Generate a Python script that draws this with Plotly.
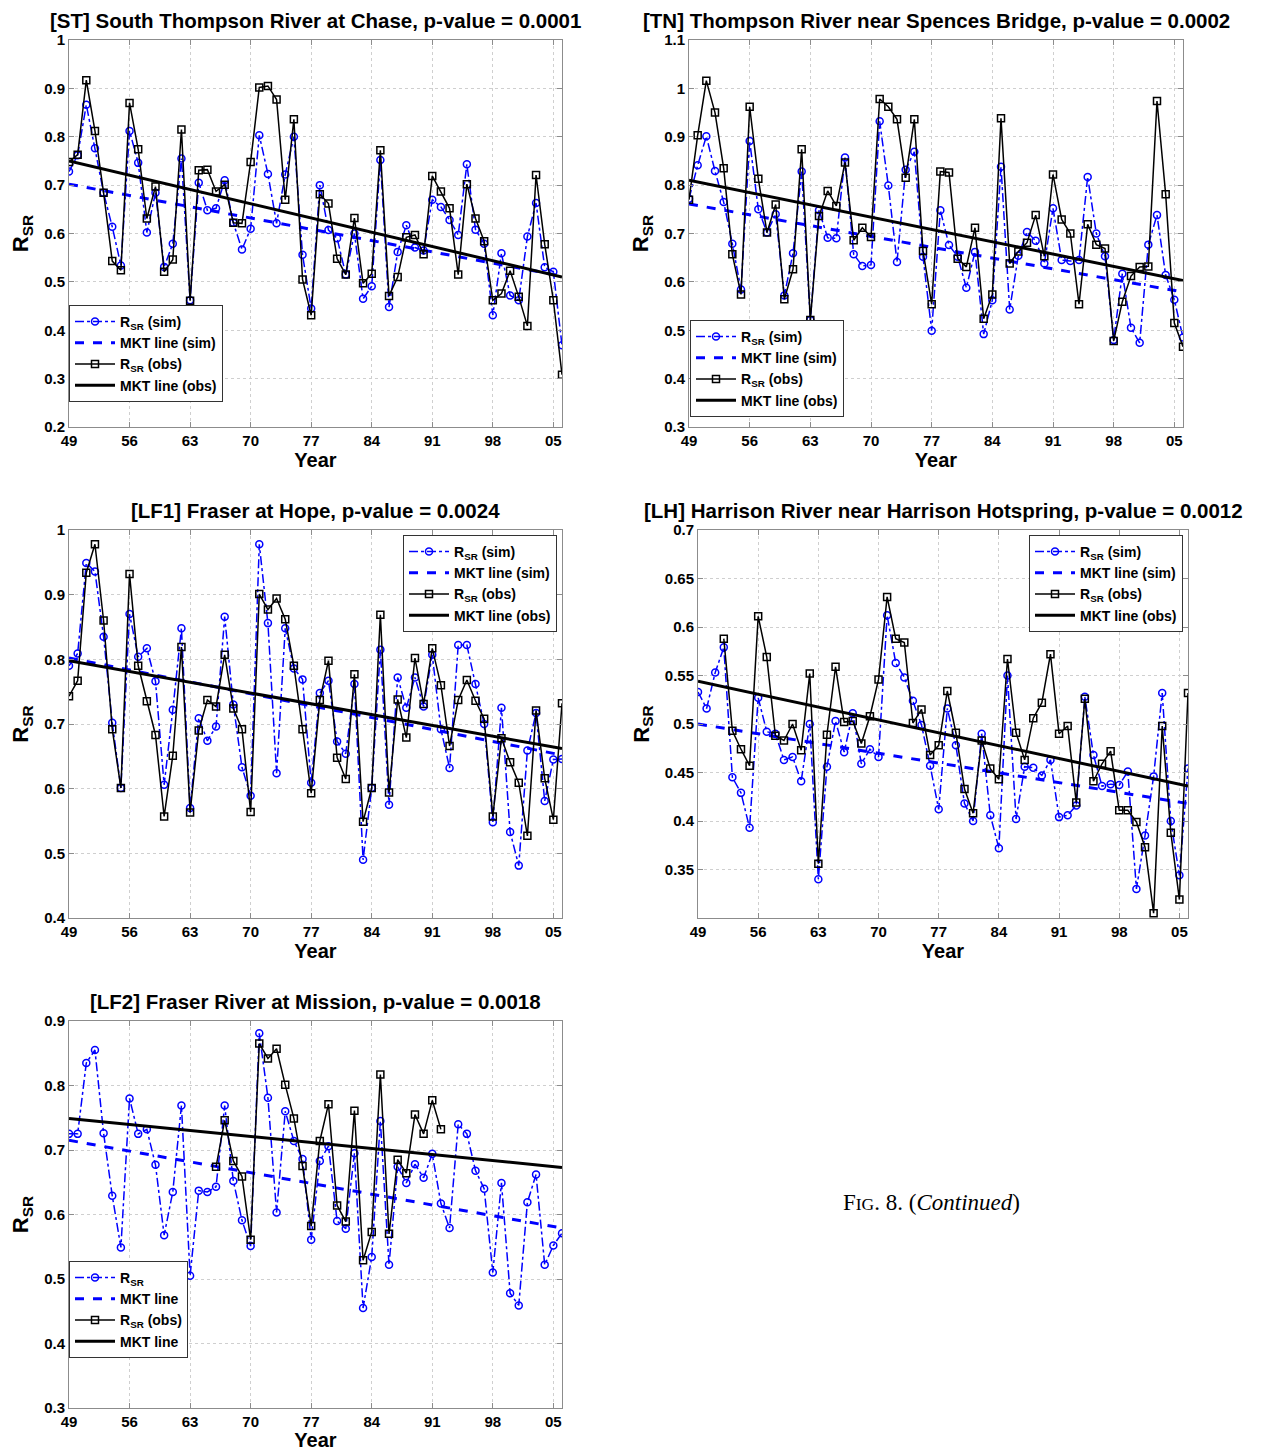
import plotly.graph_objects as go

# The page body has an 8px margin; work in reference pixels and shift by it.
OFF = 8
W, H = 1263 - OFF, 1451 - OFF

years = list(range(1949, 2007))
xtick_vals = [1949, 1956, 1963, 1970, 1977, 1984, 1991, 1998, 2005]
xtick_text = ["49", "56", "63", "70", "77", "84", "91", "98", "05"]

# ---- [ST] South Thompson River at Chase ----
st_sim = [0.728, 0.762, 0.866, 0.776, 0.684, 0.614, 0.534, 0.812, 0.746, 0.602,
          0.684, 0.531, 0.579, 0.755, 0.462, 0.705, 0.648, 0.652, 0.710, 0.622,
          0.567, 0.610, 0.803, 0.723, 0.621, 0.722, 0.800, 0.556, 0.445, 0.700,
          0.607, 0.590, 0.515, 0.600, 0.465, 0.491, 0.752, 0.448, 0.562, 0.617,
          0.571, 0.565, 0.670, 0.655, 0.628, 0.597, 0.743, 0.608, 0.579, 0.431,
          0.559, 0.472, 0.462, 0.594, 0.663, 0.530, 0.521, 0.369]
st_obs = [0.748, 0.763, 0.917, 0.812, 0.684, 0.543, 0.524, 0.870, 0.774, 0.631,
          0.697, 0.521, 0.546, 0.815, 0.461, 0.731, 0.732, 0.687, 0.701, 0.622,
          0.621, 0.748, 0.902, 0.905, 0.877, 0.670, 0.836, 0.505, 0.431, 0.681,
          0.662, 0.548, 0.515, 0.632, 0.497, 0.517, 0.772, 0.471, 0.510, 0.592,
          0.597, 0.557, 0.719, 0.687, 0.652, 0.515, 0.702, 0.631, 0.584, 0.462,
          0.476, 0.523, 0.469, 0.409, 0.721, 0.578, 0.462, 0.308]
st_mkt_sim = [0.702, 0.512]
st_mkt_obs = [0.750, 0.510]

# ---- [TN] Thompson River near Spences Bridge ----
tn_sim = [0.772, 0.841, 0.901, 0.829, 0.765, 0.679, 0.584, 0.891, 0.750, 0.702,
          0.740, 0.572, 0.659, 0.828, 0.521, 0.748, 0.691, 0.690, 0.857, 0.657,
          0.633, 0.635, 0.932, 0.799, 0.641, 0.832, 0.869, 0.652, 0.499, 0.748,
          0.676, 0.652, 0.588, 0.662, 0.492, 0.562, 0.838, 0.543, 0.654, 0.703,
          0.685, 0.638, 0.752, 0.645, 0.643, 0.645, 0.817, 0.700, 0.653, 0.480,
          0.617, 0.505, 0.474, 0.677, 0.738, 0.614, 0.563, 0.485]
tn_obs = [0.770, 0.903, 1.016, 0.950, 0.835, 0.657, 0.574, 0.962, 0.813, 0.702,
          0.760, 0.564, 0.626, 0.874, 0.521, 0.736, 0.788, 0.757, 0.847, 0.686,
          0.712, 0.693, 0.978, 0.962, 0.936, 0.815, 0.936, 0.664, 0.554, 0.828,
          0.826, 0.648, 0.631, 0.712, 0.524, 0.574, 0.938, 0.638, 0.663, 0.681,
          0.738, 0.653, 0.822, 0.729, 0.700, 0.554, 0.719, 0.677, 0.669, 0.478,
          0.559, 0.612, 0.631, 0.632, 0.974, 0.781, 0.515, 0.466]
tn_mkt_sim = [0.761, 0.579]
tn_mkt_obs = [0.810, 0.603]

# ---- [LF1] Fraser at Hope ----
lf1_sim = [0.790, 0.809, 0.949, 0.936, 0.835, 0.702, 0.601, 0.870, 0.804, 0.817,
           0.766, 0.606, 0.722, 0.848, 0.570, 0.709, 0.674, 0.696, 0.866, 0.730,
           0.633, 0.589, 0.978, 0.856, 0.624, 0.848, 0.786, 0.769, 0.609, 0.748,
           0.767, 0.673, 0.654, 0.762, 0.490, 0.601, 0.815, 0.575, 0.772, 0.725,
           0.772, 0.727, 0.807, 0.692, 0.632, 0.822, 0.822, 0.762, 0.700, 0.548,
           0.725, 0.533, 0.481, 0.659, 0.717, 0.581, 0.645, 0.646]
lf1_obs = [0.743, 0.767, 0.934, 0.978, 0.860, 0.692, 0.601, 0.932, 0.790, 0.735,
           0.683, 0.557, 0.651, 0.819, 0.563, 0.690, 0.737, 0.727, 0.807, 0.724,
           0.692, 0.564, 0.901, 0.877, 0.894, 0.862, 0.790, 0.692, 0.593, 0.737,
           0.798, 0.648, 0.615, 0.777, 0.549, 0.601, 0.869, 0.594, 0.738, 0.679,
           0.802, 0.731, 0.817, 0.760, 0.666, 0.737, 0.768, 0.736, 0.708, 0.557,
           0.678, 0.641, 0.609, 0.527, 0.721, 0.616, 0.552, 0.732]
lf1_mkt_sim = [0.802, 0.652]
lf1_mkt_obs = [0.798, 0.662]

# ---- [LH] Harrison River near Harrison Hotspring ----
lh_sim = [0.533, 0.516, 0.553, 0.579, 0.445, 0.429, 0.393, 0.527, 0.492, 0.490,
          0.463, 0.466, 0.441, 0.500, 0.340, 0.456, 0.503, 0.471, 0.511, 0.459,
          0.474, 0.466, 0.612, 0.563, 0.548, 0.524, 0.499, 0.457, 0.412, 0.516,
          0.478, 0.418, 0.400, 0.490, 0.406, 0.372, 0.550, 0.402, 0.456, 0.455,
          0.447, 0.463, 0.404, 0.406, 0.416, 0.528, 0.468, 0.436, 0.438, 0.437,
          0.451, 0.330, 0.385, 0.446, 0.532, 0.400, 0.344, 0.454]
lh_obs = [None, None, None, 0.588, 0.493, 0.474, 0.457, 0.611, 0.569, 0.488,
          0.483, 0.500, 0.473, 0.552, 0.356, 0.489, 0.559, 0.502, 0.503, 0.480,
          0.508, 0.546, 0.631, 0.588, 0.584, 0.501, 0.515, 0.468, 0.478, 0.534,
          0.491, 0.433, 0.408, 0.483, 0.454, 0.443, 0.567, 0.491, 0.463, 0.506,
          0.522, 0.572, 0.490, 0.498, 0.419, 0.526, 0.441, 0.459, 0.472, 0.411,
          0.411, 0.399, 0.373, 0.305, 0.498, 0.388, 0.319, 0.532]
lh_mkt_sim = [0.500, 0.418]
lh_mkt_obs = [0.544, 0.436]

# ---- [LF2] Fraser River at Mission ----
lf2_sim = [0.725, 0.725, 0.835, 0.855, 0.726, 0.629, 0.549, 0.780, 0.725, 0.732,
           0.677, 0.568, 0.635, 0.769, 0.505, 0.637, 0.635, 0.643, 0.769, 0.652,
           0.591, 0.551, 0.881, 0.781, 0.603, 0.760, 0.714, 0.686, 0.561, 0.683,
           0.706, 0.590, 0.578, 0.695, 0.455, 0.534, 0.745, 0.522, 0.674, 0.649,
           0.678, 0.657, 0.694, 0.617, 0.579, 0.740, 0.725, 0.668, 0.640, 0.510,
           0.649, 0.478, 0.459, 0.619, 0.662, 0.522, 0.552, 0.571]
lf2_obs = [None] * 17 + [0.674, 0.746, 0.683, 0.659, 0.561, 0.865, 0.842, 0.857,
           0.801, 0.749, 0.675, 0.582, 0.714, 0.771, 0.614, 0.589, 0.761, 0.529,
           0.573, 0.817, 0.570, 0.685, 0.664, 0.755, 0.725, 0.777, 0.732] + [None] * 14
lf2_mkt_sim = [0.715, 0.579]
lf2_mkt_obs = [0.749, 0.673]

titles = [
    "[ST] South Thompson River at Chase, p-value = 0.0001",
    "[TN] Thompson River near Spences Bridge, p-value = 0.0002",
    "[LF1] Fraser at Hope, p-value = 0.0024",
    "[LH] Harrison River near Harrison Hotspring, p-value = 0.0012",
    "[LF2] Fraser River at Mission, p-value = 0.0018",
]
legend_names_std = ["R<sub>SR</sub> (sim)", "MKT line (sim)", "R<sub>SR</sub> (obs)", "MKT line (obs)"]
legend_names_lf2 = ["R<sub>SR</sub>", "MKT line", "R<sub>SR</sub> (obs)", "MKT line"]

panels = [
    dict(sim=st_sim, obs=st_obs, ms=st_mkt_sim, mo=st_mkt_obs, px=(69, 562), py=(40, 427),
         yr=[0.2, 1.0], yt=[0.2, 0.3, 0.4, 0.5, 0.6, 0.7, 0.8, 0.9, 1.0],
         names=legend_names_std, leg=(69, 305)),
    dict(sim=tn_sim, obs=tn_obs, ms=tn_mkt_sim, mo=tn_mkt_obs, px=(689, 1183), py=(40, 427),
         yr=[0.3, 1.1], yt=[0.3, 0.4, 0.5, 0.6, 0.7, 0.8, 0.9, 1.0, 1.1],
         names=legend_names_std, leg=(690, 320)),
    dict(sim=lf1_sim, obs=lf1_obs, ms=lf1_mkt_sim, mo=lf1_mkt_obs, px=(69, 562), py=(530, 918),
         yr=[0.4, 1.0], yt=[0.4, 0.5, 0.6, 0.7, 0.8, 0.9, 1.0],
         names=legend_names_std, leg=(403, 535)),
    dict(sim=lh_sim, obs=lh_obs, ms=lh_mkt_sim, mo=lh_mkt_obs, px=(698, 1188), py=(530, 918),
         yr=[0.3, 0.7], yt=[0.35, 0.4, 0.45, 0.5, 0.55, 0.6, 0.65, 0.7],
         names=legend_names_std, leg=(1029, 535)),
    dict(sim=lf2_sim, obs=lf2_obs, ms=lf2_mkt_sim, mo=lf2_mkt_obs, px=(69, 562), py=(1021, 1408),
         yr=[0.3, 0.9], yt=[0.3, 0.4, 0.5, 0.6, 0.7, 0.8, 0.9],
         names=legend_names_lf2, leg=(69, 1261)),
]


def fx(px):
    return (px - OFF) / W


def fy(py):
    return 1 - (py - OFF) / H


BLUE = "#0000ff"
FONT = "Liberation Sans, Arial, sans-serif"
fig = go.Figure()
layout = dict(width=W, height=H, margin=dict(l=0, r=0, t=0, b=0, autoexpand=False),
              paper_bgcolor="white", plot_bgcolor="white", showlegend=True)
annotations = []
mkt_x = [years[0], years[-1]]

for i, p in enumerate(panels, start=1):
    xa = "x" if i == 1 else f"x{i}"
    ya = "y" if i == 1 else f"y{i}"
    lg = "legend" if i == 1 else f"legend{i}"
    n = p["names"]
    fig.add_trace(go.Scatter(x=years, y=p["sim"], xaxis=xa, yaxis=ya, legend=lg, name=n[0],
                             mode="lines+markers",
                             line=dict(color=BLUE, width=1.5, dash="dashdot"),
                             marker=dict(symbol="circle-open", size=7, color=BLUE, line=dict(width=1.5))))
    fig.add_trace(go.Scatter(x=mkt_x, y=p["ms"], xaxis=xa, yaxis=ya, legend=lg, name=n[1],
                             mode="lines", line=dict(color=BLUE, width=3, dash="dash")))
    fig.add_trace(go.Scatter(x=years, y=p["obs"], xaxis=xa, yaxis=ya, legend=lg, name=n[2],
                             mode="lines+markers", connectgaps=False,
                             line=dict(color="black", width=1.5),
                             marker=dict(symbol="square-open", size=7, color="black", line=dict(width=1.5))))
    fig.add_trace(go.Scatter(x=mkt_x, y=p["mo"], xaxis=xa, yaxis=ya, legend=lg, name=n[3],
                             mode="lines", line=dict(color="black", width=3)))

    x0, x1 = p["px"]
    t0, t1 = p["py"]
    common = dict(showline=True, linecolor="#8c8c8c", linewidth=1, mirror="ticks",
                  ticks="inside", ticklen=5, tickcolor="#8c8c8c", automargin=False,
                  showgrid=True, gridcolor="#cfcfcf", griddash="dot", gridwidth=1,
                  zeroline=False,
                  tickfont=dict(family=FONT, size=15, color="black", weight="bold"))
    layout["xaxis" if i == 1 else f"xaxis{i}"] = dict(
        domain=[fx(x0), fx(x1)], anchor=ya, range=[1949, 2006],
        tickvals=xtick_vals, ticktext=xtick_text,
        title=dict(text="Year", standoff=0, font=dict(family=FONT, size=20, color="black", weight="bold")),
        **common)
    layout["yaxis" if i == 1 else f"yaxis{i}"] = dict(
        domain=[fy(t1), fy(t0)], anchor=xa, range=p["yr"],
        tickvals=p["yt"], ticktext=[f"{v:g}" for v in p["yt"]],
        title=dict(text="R<sub>SR</sub>", standoff=9, font=dict(family=FONT, size=22, color="black", weight="bold")),
        **common)
    lx, ly = p["leg"]
    layout[lg] = dict(x=fx(lx), y=fy(ly), xanchor="left", yanchor="top",
                      bgcolor="white", bordercolor="#333333", borderwidth=1,
                      font=dict(family=FONT, size=14, color="black", weight="bold"),
                      tracegroupgap=0, itemwidth=40)
    annotations.append(dict(text=titles[i - 1], xref="paper", yref="paper",
                            x=fx((x0 + x1) / 2), y=fy(t0 - 20),
                            xanchor="center", yanchor="middle", showarrow=False,
                            font=dict(family=FONT, size=20.5, color="black", weight="bold")))

annotations.append(dict(text="F<span style='font-size:17.5px'>IG</span>. 8. (<i>Continued</i>)",
                        xref="paper", yref="paper", x=fx(931), y=fy(1202),
                        xanchor="center", yanchor="middle", showarrow=False,
                        font=dict(family="Liberation Serif, Times New Roman, serif", size=23, color="black")))
layout["annotations"] = annotations
fig.update_layout(**layout)
fig.write_html("out.html")
